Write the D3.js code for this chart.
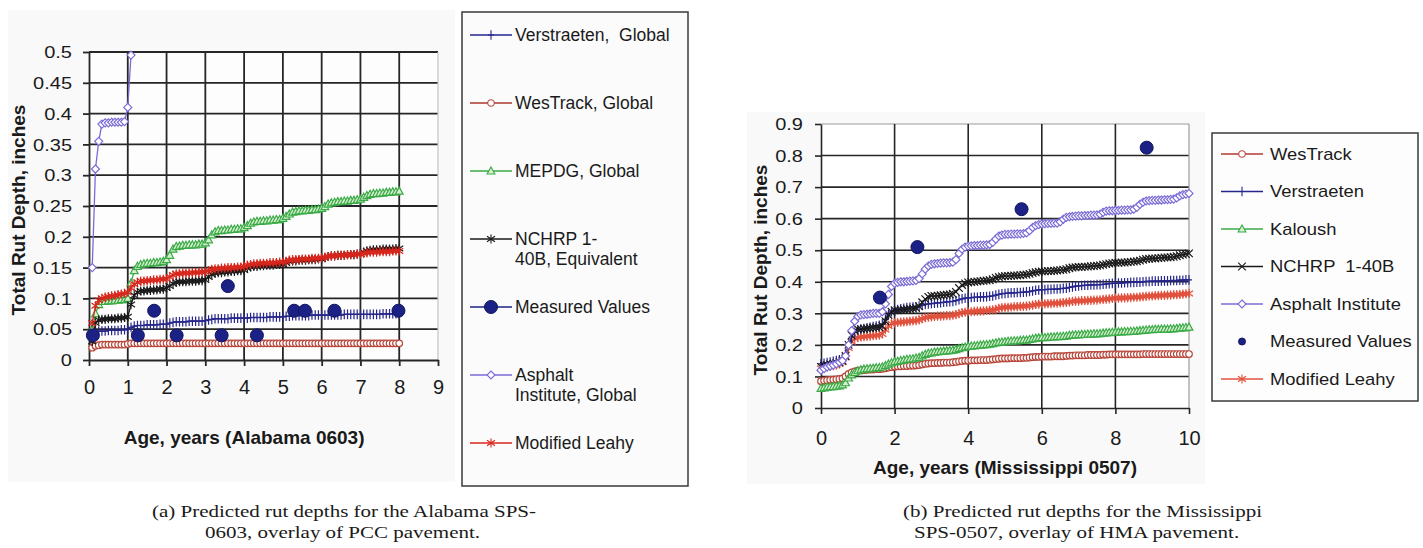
<!DOCTYPE html>
<html>
<head>
<meta charset="utf-8">
<script src="https://cdnjs.cloudflare.com/ajax/libs/d3/7.8.5/d3.min.js"></script>
<style>
  html, body { margin: 0; padding: 0; background: #ffffff; }
  svg { display: block; }
  text { font-family: "Liberation Sans", Arial, sans-serif; fill: #1a1a1a; }
  .cap { font-family: "Liberation Serif", "Times New Roman", serif; }
</style>
</head>
<body>
<svg id="fig" width="1423" height="548"></svg>
<script>
// ---------------- Alabama SPS-0603 (PCC overlay) ----------------
// monthly predictions, months 1..96
const alMonths = d3.range(1, 97);
const alXTicks = [0, 1, 2, 3, 4, 5, 6, 7, 8, 9];
const alYTicks = [0, 0.05, 0.1, 0.15, 0.2, 0.25, 0.3, 0.35, 0.4, 0.45, 0.5];

const alVerstraeten = [
  0.044, 0.046, 0.047, 0.047, 0.047, 0.048, 0.048, 0.048, 0.048, 0.049, 0.049, 0.050,
  0.053, 0.055, 0.056, 0.056, 0.056, 0.057, 0.057, 0.057, 0.057, 0.058, 0.058, 0.058,
  0.060, 0.061, 0.062, 0.062, 0.062, 0.062, 0.063, 0.063, 0.063, 0.063, 0.063, 0.064,
  0.065, 0.066, 0.067, 0.067, 0.067, 0.067, 0.067, 0.068, 0.068, 0.068, 0.068, 0.068,
  0.068, 0.069, 0.069, 0.069, 0.069, 0.069, 0.069, 0.070, 0.070, 0.070, 0.070, 0.070,
  0.071, 0.071, 0.072, 0.072, 0.072, 0.072, 0.072, 0.072, 0.073, 0.073, 0.073, 0.073,
  0.073, 0.073, 0.073, 0.073, 0.073, 0.073, 0.074, 0.074, 0.074, 0.074, 0.074, 0.074,
  0.074, 0.074, 0.074, 0.074, 0.074, 0.074, 0.075, 0.075, 0.075, 0.075, 0.075, 0.075
];
const alWesTrack = [
  0.020, 0.023, 0.024, 0.025, 0.025, 0.025, 0.025, 0.025, 0.025, 0.025, 0.025, 0.026,
  0.027, 0.027, 0.027, 0.027, 0.027, 0.027, 0.027, 0.027, 0.027, 0.027, 0.027, 0.027,
  0.027, 0.027, 0.027, 0.027, 0.027, 0.027, 0.027, 0.027, 0.027, 0.027, 0.027, 0.027,
  0.027, 0.027, 0.027, 0.027, 0.027, 0.027, 0.027, 0.027, 0.027, 0.027, 0.027, 0.027,
  0.027, 0.027, 0.027, 0.027, 0.027, 0.027, 0.027, 0.027, 0.027, 0.027, 0.027, 0.027,
  0.027, 0.027, 0.027, 0.027, 0.027, 0.027, 0.027, 0.027, 0.027, 0.027, 0.027, 0.027,
  0.027, 0.027, 0.027, 0.027, 0.027, 0.027, 0.027, 0.027, 0.027, 0.027, 0.027, 0.027,
  0.027, 0.027, 0.027, 0.027, 0.027, 0.027, 0.027, 0.027, 0.027, 0.027, 0.027, 0.027
];
const alMepdg = [
  0.050, 0.075, 0.090, 0.095, 0.095, 0.096, 0.096, 0.097, 0.097, 0.098, 0.098, 0.100,
  0.125, 0.145, 0.152, 0.155, 0.156, 0.157, 0.157, 0.158, 0.158, 0.159, 0.160, 0.163,
  0.170, 0.180, 0.184, 0.185, 0.186, 0.186, 0.187, 0.187, 0.187, 0.188, 0.188, 0.190,
  0.195, 0.203, 0.208, 0.210, 0.210, 0.211, 0.211, 0.212, 0.212, 0.213, 0.213, 0.215,
  0.218, 0.222, 0.224, 0.225, 0.225, 0.226, 0.226, 0.227, 0.227, 0.228, 0.228, 0.230,
  0.233, 0.237, 0.240, 0.241, 0.242, 0.242, 0.243, 0.243, 0.244, 0.244, 0.245, 0.246,
  0.249, 0.253, 0.255, 0.256, 0.257, 0.257, 0.258, 0.258, 0.259, 0.259, 0.260, 0.261,
  0.264, 0.267, 0.269, 0.270, 0.270, 0.271, 0.271, 0.272, 0.272, 0.273, 0.273, 0.274
];
const alNchrp = [
  0.030, 0.060, 0.065, 0.066, 0.066, 0.067, 0.067, 0.067, 0.068, 0.068, 0.069, 0.070,
  0.090, 0.105, 0.110, 0.112, 0.112, 0.113, 0.113, 0.114, 0.114, 0.115, 0.115, 0.117,
  0.120, 0.124, 0.126, 0.127, 0.127, 0.127, 0.128, 0.128, 0.128, 0.129, 0.129, 0.130,
  0.135, 0.139, 0.141, 0.142, 0.142, 0.143, 0.143, 0.144, 0.144, 0.145, 0.145, 0.146,
  0.149, 0.151, 0.152, 0.152, 0.153, 0.153, 0.154, 0.154, 0.154, 0.155, 0.155, 0.155,
  0.158, 0.160, 0.161, 0.161, 0.162, 0.162, 0.162, 0.163, 0.163, 0.163, 0.164, 0.164,
  0.166, 0.168, 0.169, 0.169, 0.170, 0.170, 0.170, 0.171, 0.171, 0.171, 0.172, 0.172,
  0.175, 0.177, 0.178, 0.179, 0.179, 0.179, 0.180, 0.180, 0.180, 0.180, 0.181, 0.181
];
const alLeahy = [
  0.060, 0.088, 0.097, 0.100, 0.102, 0.103, 0.104, 0.105, 0.106, 0.107, 0.108, 0.110,
  0.117, 0.123, 0.126, 0.128, 0.128, 0.129, 0.129, 0.130, 0.130, 0.131, 0.131, 0.132,
  0.135, 0.138, 0.140, 0.140, 0.141, 0.141, 0.141, 0.142, 0.142, 0.142, 0.143, 0.143,
  0.145, 0.147, 0.148, 0.148, 0.149, 0.149, 0.150, 0.150, 0.150, 0.151, 0.151, 0.152,
  0.154, 0.155, 0.156, 0.156, 0.157, 0.157, 0.157, 0.158, 0.158, 0.158, 0.159, 0.159,
  0.160, 0.162, 0.163, 0.163, 0.163, 0.164, 0.164, 0.164, 0.165, 0.165, 0.165, 0.166,
  0.167, 0.168, 0.169, 0.169, 0.170, 0.170, 0.170, 0.171, 0.171, 0.171, 0.172, 0.172,
  0.173, 0.174, 0.175, 0.175, 0.175, 0.176, 0.176, 0.176, 0.176, 0.177, 0.177, 0.177
];
// Asphalt Institute model runs off the scale after month 13
const alAsphalt = [0.150, 0.310, 0.355, 0.383, 0.385, 0.385, 0.386, 0.386, 0.386, 0.386, 0.387, 0.410, 0.495];
const alMeasuredAge = [0.10, 1.26, 1.68, 2.26, 3.42, 3.58, 4.33, 5.29, 5.57, 6.33, 7.98];
const alMeasuredDepth = [0.04, 0.04, 0.08, 0.04, 0.04, 0.12, 0.04, 0.08, 0.08, 0.08, 0.08];
const alLegend = ["Verstraeten,  Global", "WesTrack, Global", "MEPDG, Global",
  "NCHRP 1-|40B, Equivalent", "Measured Values", "Asphalt|Institute, Global", "Modified Leahy"];

// ---------------- Mississippi SPS-0507 (HMA overlay) ----------------
// monthly predictions, months 0..120
const msMonths = d3.range(0, 121);
const msXTicks = [0, 2, 4, 6, 8, 10];
const msYTicks = [0, 0.1, 0.2, 0.3, 0.4, 0.5, 0.6, 0.7, 0.8, 0.9];

const msWesTrack = [
  0.085, 0.087, 0.088, 0.089, 0.090, 0.091, 0.092, 0.094, 0.100, 0.108, 0.113, 0.116, 0.118,
  0.119, 0.120, 0.121, 0.122, 0.122, 0.123, 0.123, 0.124, 0.126, 0.128, 0.130, 0.131,
  0.132, 0.132, 0.133, 0.133, 0.134, 0.134, 0.135, 0.136, 0.138, 0.140, 0.141, 0.142,
  0.142, 0.143, 0.143, 0.144, 0.144, 0.144, 0.145, 0.146, 0.148, 0.149, 0.150, 0.150,
  0.151, 0.151, 0.151, 0.152, 0.152, 0.152, 0.153, 0.154, 0.155, 0.156, 0.157, 0.157,
  0.157, 0.158, 0.158, 0.158, 0.158, 0.159, 0.159, 0.160, 0.161, 0.162, 0.162, 0.163,
  0.163, 0.163, 0.163, 0.164, 0.164, 0.164, 0.164, 0.165, 0.166, 0.166, 0.167, 0.167,
  0.167, 0.167, 0.168, 0.168, 0.168, 0.168, 0.168, 0.169, 0.169, 0.170, 0.170, 0.170,
  0.170, 0.170, 0.170, 0.170, 0.170, 0.170, 0.170, 0.170, 0.171, 0.171, 0.171, 0.171,
  0.171, 0.171, 0.171, 0.171, 0.171, 0.171, 0.171, 0.171, 0.171, 0.171, 0.171, 0.171
];
const msVerstraeten = [
  0.140, 0.142, 0.144, 0.146, 0.148, 0.150, 0.153, 0.158, 0.170, 0.200, 0.225, 0.240, 0.248,
  0.250, 0.252, 0.254, 0.256, 0.258, 0.260, 0.262, 0.266, 0.280, 0.295, 0.305, 0.310,
  0.312, 0.314, 0.316, 0.318, 0.319, 0.320, 0.321, 0.323, 0.326, 0.328, 0.330, 0.331,
  0.332, 0.333, 0.334, 0.335, 0.336, 0.337, 0.338, 0.340, 0.343, 0.346, 0.348, 0.349,
  0.350, 0.351, 0.351, 0.352, 0.352, 0.353, 0.354, 0.355, 0.358, 0.360, 0.362, 0.363,
  0.364, 0.365, 0.365, 0.366, 0.366, 0.367, 0.368, 0.369, 0.371, 0.373, 0.374, 0.375,
  0.375, 0.376, 0.376, 0.377, 0.377, 0.378, 0.379, 0.380, 0.382, 0.384, 0.386, 0.387,
  0.388, 0.389, 0.389, 0.390, 0.390, 0.391, 0.391, 0.392, 0.393, 0.394, 0.395, 0.395,
  0.396, 0.396, 0.397, 0.397, 0.398, 0.398, 0.399, 0.399, 0.400, 0.401, 0.401, 0.402,
  0.402, 0.402, 0.403, 0.403, 0.403, 0.404, 0.404, 0.404, 0.405, 0.405, 0.406, 0.406
];
const msKaloush = [
  0.062, 0.064, 0.066, 0.067, 0.068, 0.069, 0.070, 0.073, 0.080, 0.095, 0.105, 0.112, 0.118,
  0.121, 0.123, 0.124, 0.125, 0.126, 0.127, 0.128, 0.130, 0.134, 0.139, 0.143, 0.146,
  0.148, 0.150, 0.152, 0.154, 0.155, 0.156, 0.158, 0.160, 0.165, 0.170, 0.173, 0.175,
  0.177, 0.178, 0.179, 0.180, 0.181, 0.182, 0.183, 0.185, 0.188, 0.191, 0.193, 0.195,
  0.196, 0.197, 0.198, 0.199, 0.200, 0.201, 0.202, 0.204, 0.206, 0.208, 0.209, 0.210,
  0.211, 0.212, 0.213, 0.213, 0.214, 0.215, 0.215, 0.217, 0.219, 0.221, 0.222, 0.223,
  0.223, 0.224, 0.225, 0.225, 0.226, 0.226, 0.227, 0.228, 0.230, 0.231, 0.232, 0.232,
  0.233, 0.233, 0.234, 0.234, 0.235, 0.235, 0.236, 0.237, 0.238, 0.239, 0.240, 0.240,
  0.241, 0.241, 0.242, 0.242, 0.243, 0.243, 0.244, 0.245, 0.246, 0.247, 0.248, 0.248,
  0.249, 0.249, 0.250, 0.250, 0.250, 0.251, 0.251, 0.252, 0.253, 0.254, 0.255, 0.256
];
const msNchrp = [
  0.130, 0.133, 0.136, 0.138, 0.140, 0.142, 0.145, 0.150, 0.165, 0.200, 0.230, 0.245, 0.250,
  0.250, 0.251, 0.252, 0.253, 0.254, 0.255, 0.256, 0.260, 0.275, 0.295, 0.305, 0.310,
  0.310, 0.311, 0.312, 0.313, 0.314, 0.315, 0.317, 0.322, 0.335, 0.345, 0.352, 0.355,
  0.355, 0.356, 0.357, 0.358, 0.359, 0.360, 0.362, 0.368, 0.380, 0.390, 0.395, 0.398,
  0.399, 0.400, 0.401, 0.402, 0.403, 0.404, 0.405, 0.408, 0.412, 0.415, 0.417, 0.418,
  0.418, 0.419, 0.420, 0.420, 0.421, 0.422, 0.423, 0.425, 0.428, 0.430, 0.432, 0.433,
  0.433, 0.434, 0.434, 0.435, 0.436, 0.437, 0.438, 0.440, 0.443, 0.445, 0.446, 0.447,
  0.447, 0.448, 0.448, 0.449, 0.450, 0.451, 0.452, 0.454, 0.456, 0.458, 0.459, 0.460,
  0.460, 0.461, 0.461, 0.462, 0.463, 0.464, 0.465, 0.467, 0.470, 0.472, 0.473, 0.474,
  0.474, 0.475, 0.476, 0.477, 0.477, 0.478, 0.479, 0.481, 0.484, 0.486, 0.488, 0.490
];
const msAsphalt = [
  0.120, 0.125, 0.130, 0.133, 0.136, 0.140, 0.145, 0.150, 0.165, 0.200, 0.245, 0.275, 0.290,
  0.295, 0.296, 0.297, 0.298, 0.300, 0.300, 0.300, 0.305, 0.330, 0.360, 0.385, 0.395,
  0.398, 0.400, 0.400, 0.401, 0.402, 0.403, 0.404, 0.410, 0.425, 0.440, 0.450, 0.455,
  0.457, 0.458, 0.459, 0.460, 0.460, 0.461, 0.462, 0.470, 0.490, 0.503, 0.510, 0.513,
  0.514, 0.515, 0.515, 0.516, 0.516, 0.517, 0.518, 0.525, 0.535, 0.545, 0.548, 0.550,
  0.550, 0.551, 0.551, 0.552, 0.552, 0.553, 0.555, 0.562, 0.572, 0.578, 0.581, 0.583,
  0.584, 0.585, 0.585, 0.586, 0.586, 0.590, 0.598, 0.604, 0.606, 0.607, 0.608, 0.609,
  0.609, 0.610, 0.610, 0.611, 0.611, 0.612, 0.614, 0.620, 0.624, 0.625, 0.625, 0.626,
  0.626, 0.627, 0.627, 0.628, 0.628, 0.630, 0.636, 0.645, 0.652, 0.656, 0.657, 0.658,
  0.658, 0.659, 0.659, 0.660, 0.660, 0.661, 0.662, 0.666, 0.672, 0.676, 0.678, 0.680
];
const msLeahy = [
  0.125, 0.128, 0.130, 0.132, 0.134, 0.136, 0.140, 0.145, 0.160, 0.190, 0.210, 0.220, 0.223,
  0.225, 0.226, 0.227, 0.228, 0.229, 0.230, 0.231, 0.235, 0.248, 0.260, 0.267, 0.270,
  0.271, 0.272, 0.273, 0.274, 0.275, 0.276, 0.277, 0.279, 0.283, 0.286, 0.288, 0.289,
  0.290, 0.291, 0.291, 0.292, 0.293, 0.293, 0.294, 0.296, 0.299, 0.302, 0.304, 0.305,
  0.305, 0.306, 0.307, 0.307, 0.308, 0.309, 0.310, 0.311, 0.313, 0.316, 0.318, 0.319,
  0.319, 0.320, 0.321, 0.321, 0.322, 0.322, 0.323, 0.324, 0.326, 0.328, 0.329, 0.330,
  0.330, 0.331, 0.331, 0.332, 0.332, 0.333, 0.334, 0.335, 0.336, 0.338, 0.339, 0.339,
  0.340, 0.340, 0.341, 0.341, 0.342, 0.342, 0.343, 0.344, 0.345, 0.346, 0.347, 0.348,
  0.348, 0.349, 0.349, 0.350, 0.350, 0.351, 0.351, 0.352, 0.353, 0.354, 0.355, 0.355,
  0.356, 0.356, 0.357, 0.357, 0.358, 0.358, 0.359, 0.359, 0.360, 0.361, 0.362, 0.363
];
const msMeasuredAge = [1.60, 2.62, 5.45, 8.85];
const msMeasuredDepth = [0.35, 0.51, 0.63, 0.825];
const msLegend = ["WesTrack", "Verstraeten", "Kaloush", "NCHRP  1-40B",
  "Asphalt Institute", "Measured Values", "Modified Leahy"];

// ---------------- drawing ----------------
const svg = d3.select("#fig");
const GRID = "#262626";
const NAVY = "#25258c";

const MARK = {
  plus: "M0,-4.8V4.8M-3,0H3",
  circle: "M3.3,0A3.3,3.3 0 1,1 -3.3,0A3.3,3.3 0 1,1 3.3,0Z",
  triangle: "M0,-4.1L3.9,3H-3.9Z",
  diamond: "M0,-4L4,0L0,4L-4,0Z",
  asterisk: "M0,-4.6V4.6M-4,-2.8L4,2.8M-4,2.8L4,-2.8",
  cross: "M-3.8,-3.8L3.8,3.8M-3.8,3.8L3.8,-3.8"
};

function fmtTick(d) { return String(+d.toFixed(3)); }

function drawSeries(g, x, y, ages, values, st) {
  const pts = values.map((v, i) => [ages[i], v]);
  const line = d3.line().x(d => x(d[0])).y(d => y(d[1]));
  if (st.line !== false) {
    g.append("path").attr("d", line(pts)).attr("fill", "none")
      .attr("stroke", st.color).attr("stroke-width", st.lw || 1.3);
  }
  g.append("g").selectAll("path").data(pts).join("path")
    .attr("transform", d => `translate(${x(d[0])},${y(d[1])})`)
    .attr("d", MARK[st.mark])
    .attr("fill", st.fill || "none")
    .attr("stroke", st.mstroke || st.color)
    .attr("stroke-width", st.mw || 1.2);
}

function drawMeasured(g, x, y, ages, values, r) {
  g.append("g").selectAll("circle").data(ages.map((a, i) => [a, values[i]])).join("circle")
    .attr("cx", d => x(d[0])).attr("cy", d => y(d[1])).attr("r", r)
    .attr("fill", "#1c2285").attr("stroke", "#10155e").attr("stroke-width", 1);
}

function legendSymbol(g, cx, cy, half, st) {
  if (st.line !== false) {
    g.append("line").attr("x1", cx - half).attr("x2", cx + half).attr("y1", cy).attr("y2", cy)
      .attr("stroke", st.color).attr("stroke-width", 1.4);
  }
  if (st.measured) {
    g.append("circle").attr("cx", cx).attr("cy", cy).attr("r", st.r)
      .attr("fill", "#1c2285").attr("stroke", "#10155e");
  } else {
    g.append("path").attr("transform", `translate(${cx},${cy})`).attr("d", MARK[st.mark])
      .attr("fill", st.fill || "none").attr("stroke", st.mstroke || st.color).attr("stroke-width", 1.1);
  }
}

// ===== panel (a) =====
{
  const g = svg.append("g");
  g.append("rect").attr("x", 8).attr("y", 10).attr("width", 447).attr("height", 472).attr("fill", "#f9f9f9");
  const x = d3.scaleLinear().domain([0, 9]).range([89, 438]);
  const y = d3.scaleLinear().domain([0, 0.5]).range([360, 52]);
  g.append("rect").attr("x", x(0)).attr("y", y(0.5)).attr("width", x(9) - x(0)).attr("height", y(0) - y(0.5)).attr("fill", "#fdfdfd");

  // grid
  g.append("g").selectAll("line").data(alYTicks.slice(1)).join("line")
    .attr("x1", x(0)).attr("x2", x(9)).attr("y1", d => y(d)).attr("y2", d => y(d))
    .attr("stroke", GRID).attr("stroke-width", 1.8);
  g.append("g").selectAll("line").data(alXTicks.slice(1)).join("line")
    .attr("x1", d => x(d)).attr("x2", d => x(d)).attr("y1", y(0)).attr("y2", y(0.5))
    .attr("stroke", d => d === 9 ? "#c4c4c4" : GRID).attr("stroke-width", d => d === 9 ? 1.2 : 1.8);

  // axes
  const ya = g.append("g").attr("transform", `translate(${x(0)},0)`)
    .call(d3.axisLeft(y).tickValues(alYTicks).tickSize(6).tickSizeOuter(0).tickFormat(fmtTick));
  const xa = g.append("g").attr("transform", `translate(0,${y(0)})`)
    .call(d3.axisBottom(x).tickValues(alXTicks).tickSize(6).tickSizeOuter(0).tickFormat(d3.format("d")));
  [ya, xa].forEach(a => {
    a.select(".domain").attr("stroke", GRID).attr("stroke-width", 1.8);
    a.selectAll(".tick line").attr("stroke", GRID).attr("stroke-width", 1.8);
  });
  ya.selectAll(".tick text").attr("font-size", 16).attr("fill", "#333")
    .attr("x", -13.6).attr("dy", "0.36em").attr("transform", "scale(1.25,1)")
    .style("font-family", "'Liberation Sans', Arial, sans-serif");
  xa.selectAll(".tick text").attr("font-size", 20).attr("fill", "#333").attr("y", 20).attr("dy", "0.71em")
    .style("font-family", "'Liberation Sans', Arial, sans-serif");

  // series
  const ages = alMonths.map(m => m / 12);
  const styles = {
    ver: { color: NAVY, mark: "plus", lw: 1.3 },
    wes: { color: "#a8382e", mark: "circle", fill: "#fff", mstroke: "#b8463a" },
    mep: { color: "#3aaa46", mark: "triangle", fill: "#d8f0d0" },
    nch: { color: "#1a1a1a", mark: "asterisk" },
    mea: { color: "#1c2285", measured: true, r: 6.5 },
    asp: { color: "#7a6cd6", mark: "diamond", fill: "#fff" },
    lea: { color: "#d8261c", mark: "asterisk" }
  };
  drawSeries(g, x, y, ages, alWesTrack, styles.wes);
  drawSeries(g, x, y, ages, alVerstraeten, styles.ver);
  drawSeries(g, x, y, ages, alMepdg, styles.mep);
  drawSeries(g, x, y, ages, alNchrp, styles.nch);
  drawSeries(g, x, y, ages, alLeahy, styles.lea);
  drawSeries(g, x, y, ages.slice(0, alAsphalt.length), alAsphalt, styles.asp);
  drawMeasured(g, x, y, alMeasuredAge, alMeasuredDepth, 6.5);

  // titles
  g.append("text").attr("x", x(4)).attr("y", 444).attr("text-anchor", "middle")
    .attr("font-size", 19).attr("font-weight", "bold").text("Age, years (Alabama 0603)");
  g.append("text").attr("transform", "translate(25,210) rotate(-90)").attr("text-anchor", "middle")
    .attr("font-size", 19).attr("font-weight", "bold").text("Total Rut Depth, inches");

  // legend
  const lg = g.append("g");
  lg.append("rect").attr("x", 462).attr("y", 12).attr("width", 226).attr("height", 474)
    .attr("fill", "#fbfbfb").attr("stroke", "#3a3a3a").attr("stroke-width", 1.5);
  const order = ["ver", "wes", "mep", "nch", "mea", "asp", "lea"];
  alLegend.forEach((lab, i) => {
    const cy = 35 + i * 68;
    legendSymbol(lg, 491, cy, 21, styles[order[i]]);
    const t = lg.append("text").attr("x", 515).attr("y", cy + 6).attr("font-size", 17.5)
      .attr("fill", "#222").style("white-space", "pre");
    lab.split("|").forEach((s, k) => {
      t.append("tspan").attr("x", 515).attr("dy", k === 0 ? 0 : 20).text(s);
    });
  });
}

// ===== panel (b) =====
{
  const g = svg.append("g");
  g.append("rect").attr("x", 747).attr("y", 112).attr("width", 458).attr("height", 372).attr("fill", "#f9f9f9");
  const x = d3.scaleLinear().domain([0, 10]).range([821, 1189]);
  const y = d3.scaleLinear().domain([0, 0.9]).range([408, 124]);
  g.append("rect").attr("x", x(0)).attr("y", y(0.9)).attr("width", x(10) - x(0)).attr("height", y(0) - y(0.9)).attr("fill", "#ffffff");

  g.append("g").selectAll("line").data(msYTicks.slice(1)).join("line")
    .attr("x1", x(0)).attr("x2", x(10)).attr("y1", d => y(d)).attr("y2", d => y(d))
    .attr("stroke", d => d === 0.9 ? "#9a9a9a" : GRID).attr("stroke-width", d => d === 0.9 ? 1.2 : 1.6);
  g.append("g").selectAll("line").data(msXTicks.slice(1)).join("line")
    .attr("x1", d => x(d)).attr("x2", d => x(d)).attr("y1", y(0)).attr("y2", y(0.9))
    .attr("stroke", d => d === 10 ? "#9a9a9a" : GRID).attr("stroke-width", d => d === 10 ? 1.2 : 1.6);

  const ya = g.append("g").attr("transform", `translate(${x(0)},0)`)
    .call(d3.axisLeft(y).tickValues(msYTicks).tickSize(6).tickSizeOuter(0).tickFormat(fmtTick));
  const xa = g.append("g").attr("transform", `translate(0,${y(0)})`)
    .call(d3.axisBottom(x).tickValues(msXTicks).tickSize(6).tickSizeOuter(0).tickFormat(d3.format("d")));
  [ya, xa].forEach(a => {
    a.select(".domain").attr("stroke", GRID).attr("stroke-width", 1.6);
    a.selectAll(".tick line").attr("stroke", GRID).attr("stroke-width", 1.6);
  });
  ya.selectAll(".tick text").attr("font-size", 16).attr("fill", "#333")
    .attr("x", -14.4).attr("dy", "0.36em").attr("transform", "scale(1.25,1)")
    .style("font-family", "'Liberation Sans', Arial, sans-serif");
  xa.selectAll(".tick text").attr("font-size", 20).attr("fill", "#333").attr("y", 23).attr("dy", "0.71em")
    .style("font-family", "'Liberation Sans', Arial, sans-serif");

  const ages = msMonths.map(m => m / 12);
  const styles = {
    wes: { color: "#b03a30", mark: "circle", fill: "#fff", mstroke: "#b8463a" },
    ver: { color: NAVY, mark: "plus" },
    kal: { color: "#3aaa46", mark: "triangle", fill: "#d8f0d0" },
    nch: { color: "#1a1a1a", mark: "cross" },
    asp: { color: "#7a6cd6", mark: "diamond", fill: "#fff" },
    mea: { color: "#1c2285", measured: true, line: false, r: 3.5 },
    lea: { color: "#e0503c", mark: "asterisk" }
  };
  drawSeries(g, x, y, ages, msWesTrack, styles.wes);
  drawSeries(g, x, y, ages, msKaloush, styles.kal);
  drawSeries(g, x, y, ages, msLeahy, styles.lea);
  drawSeries(g, x, y, ages, msVerstraeten, styles.ver);
  drawSeries(g, x, y, ages, msNchrp, styles.nch);
  drawSeries(g, x, y, ages, msAsphalt, styles.asp);
  drawMeasured(g, x, y, msMeasuredAge, msMeasuredDepth, 6.5);

  g.append("text").attr("x", x(5)).attr("y", 474).attr("text-anchor", "middle")
    .attr("font-size", 19).attr("font-weight", "bold").text("Age, years (Mississippi 0507)");
  g.append("text").attr("transform", "translate(767,270) rotate(-90)").attr("text-anchor", "middle")
    .attr("font-size", 19).attr("font-weight", "bold").text("Total Rut Depth, inches");

  const lg = g.append("g");
  lg.append("rect").attr("x", 1212).attr("y", 133).attr("width", 206).attr("height", 268)
    .attr("fill", "#fdfdfd").attr("stroke", "#3a3a3a").attr("stroke-width", 1.5);
  const order = ["wes", "ver", "kal", "nch", "asp", "mea", "lea"];
  msLegend.forEach((lab, i) => {
    const cy = 154 + i * 37.5;
    legendSymbol(lg, 1242, cy, 21, styles[order[i]]);
    lg.append("text").attr("transform", `translate(1270,${cy + 5.5}) scale(1.15,1)`)
      .attr("font-size", 16).attr("fill", "#222").style("white-space", "pre").text(lab);
  });
}

// ===== captions (serif, slightly widened) =====
const captions = [
  { lines: ["(a) Predicted rut depths for the Alabama SPS-", "0603, overlay of PCC pavement."], xs: [152, 205] },
  { lines: ["(b) Predicted rut depths for the Mississippi", "SPS-0507, overlay of HMA pavement."], xs: [903, 914] }
];
captions.forEach(c => {
  c.lines.forEach((s, k) => {
    svg.append("text").attr("class", "cap")
      .attr("transform", `translate(${c.xs[k]},${517 + k * 21}) scale(1.2,1)`)
      .attr("font-size", 17.5).attr("fill", "#111").text(s);
  });
});
</script>
</body>
</html>
